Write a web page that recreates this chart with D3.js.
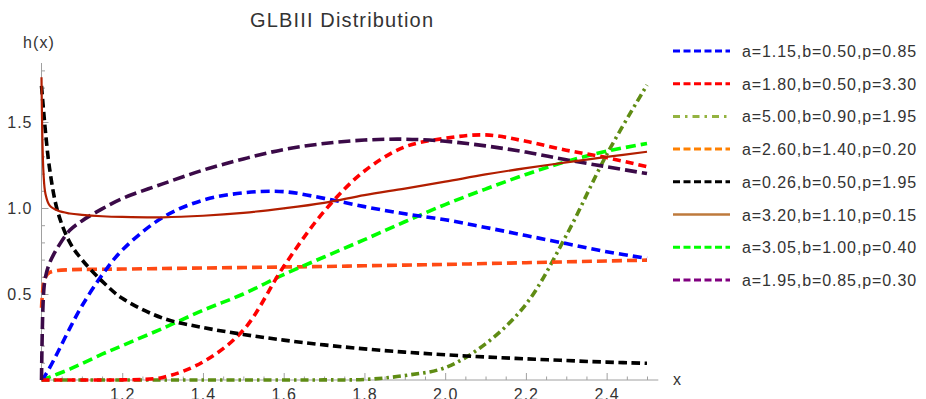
<!DOCTYPE html>
<html>
<head>
<meta charset="utf-8">
<script src="https://cdn.jsdelivr.net/npm/d3@7"></script>
<style>
  html, body { margin: 0; padding: 0; background: #fff; }
  svg { display: block; font-family: "Liberation Sans", Arial, sans-serif; }
</style>
</head>
<body>
<svg id="chart" width="926" height="399"></svg>
<script>
// ---- data ----
const xs = [1.0, 1.005, 1.01, 1.02, 1.04, 1.07, 1.1, 1.15, 1.2, 1.3, 1.4, 1.5, 1.6, 1.7, 1.8, 1.9, 2.0, 2.1, 2.2, 2.3, 2.4, 2.5];

const hBlue   = [0, 0.012, 0.03, 0.07, 0.16, 0.30, 0.43, 0.61, 0.755, 0.945, 1.045, 1.088, 1.095, 1.056, 1.008, 0.966, 0.932, 0.887, 0.84, 0.793, 0.746, 0.707];
const hRed    = [0, 0, 0, 0, 0, 0, 0, 0, 0.001, 0.015, 0.105, 0.29, 0.66, 0.98, 1.215, 1.355, 1.405, 1.425, 1.388, 1.336, 1.293, 1.24];
const hOlive  = [0, 0, 0, 0, 0, 0, 0, 0, 0, 0, 0, 0, 0, 0.0005, 0.003, 0.026, 0.072, 0.21, 0.44, 0.84, 1.31, 1.715];
const hOrange = [0.42, 0.56, 0.60, 0.625, 0.637, 0.641, 0.643, 0.644, 0.645, 0.648, 0.651, 0.654, 0.657, 0.66, 0.664, 0.668, 0.672, 0.677, 0.682, 0.687, 0.692, 0.697];
const hBlack  = [1.71, 1.57, 1.44, 1.23, 0.98, 0.80, 0.70, 0.575, 0.475, 0.36, 0.305, 0.265, 0.232, 0.204, 0.181, 0.162, 0.147, 0.134, 0.123, 0.113, 0.104, 0.097];
const hSolid  = [1.76, 1.20, 1.08, 1.015, 0.985, 0.968, 0.96, 0.952, 0.948, 0.946, 0.955, 0.972, 0.998, 1.03, 1.075, 1.113, 1.153, 1.195, 1.232, 1.265, 1.297, 1.327];
const hGreen  = [0, 0.004, 0.008, 0.017, 0.035, 0.063, 0.095, 0.15, 0.20, 0.30, 0.405, 0.50, 0.613, 0.715, 0.816, 0.92, 1.02, 1.11, 1.195, 1.27, 1.33, 1.375];
const hPurple = [0, 0.50, 0.60, 0.68, 0.77, 0.87, 0.925, 0.995, 1.055, 1.14, 1.22, 1.285, 1.34, 1.375, 1.395, 1.40, 1.388, 1.361, 1.325, 1.28, 1.24, 1.20];

const labels = ["a=1.15,b=0.50,p=0.85", "a=1.80,b=0.50,p=3.30", "a=5.00,b=0.90,p=1.95", "a=2.60,b=1.40,p=0.20",
                "a=0.26,b=0.50,p=1.95", "a=3.20,b=1.10,p=0.15", "a=3.05,b=1.00,p=0.40", "a=1.95,b=0.85,p=0.30"];
const xTicks = [1.2, 1.4, 1.6, 1.8, 2.0, 2.2, 2.4];
const yTicks = [0.5, 1.0, 1.5];
const titleText = "GLBIII Distribution";

// ---- styles ----
const seriesValues = [hBlue, hRed, hOlive, hOrange, hBlack, hSolid, hGreen, hPurple];
const plotColors   = ["#0000ff", "#ff0000", "#5f8c14", "#ff4a14", "#000000", "#b21e00", "#00ff00", "#3b0a48"];
const legendColors = ["#0000ff", "#ff0000", "#94b340", "#ff8000", "#000000", "#be7a3c", "#00ff00", "#800080"];
const plotDash     = ["9,5", "8,5", "8,4,2.5,4", "10,5", "8.5,4.5", null, "10,5", "12,5"];
const legendDash   = ["7,3.5", "7,3.5", "7,5,2.5,5", "7,3.5", "7,3.5", null, "7,3.5", "7,3.5"];

const svg = d3.select("#chart");
const x = d3.scaleLinear().domain([1, 2.5]).range([41.5, 647]);
const y = d3.scaleLinear().domain([0, 1.843]).range([380, 63]);

const axisColor = "#a0a0a0";
const textColor = "#333";

svg.append("defs").append("clipPath").attr("id", "plotclip")
  .append("rect")
  .attr("x", x(1) - 3).attr("y", y(1.843))
  .attr("width", x(2.5) - x(1) + 8).attr("height", y(0) - y(1.843) + 2);

// minor ticks
const xMinor = d3.range(1.05, 2.5001, 0.05).filter(v => Math.abs(v * 5 - Math.round(v * 5)) > 1e-6);
const yMinor = d3.range(0.1, 1.8001, 0.1).filter(v => Math.abs(v * 2 - Math.round(v * 2)) > 1e-6);

const gx = svg.append("g").attr("transform", `translate(0,${y(0)})`);
gx.call(d3.axisBottom(x).tickValues(xMinor).tickSize(-3.5).tickSizeOuter(0).tickFormat(""));
gx.call(g => g.select(".domain").remove());
const gx2 = svg.append("g").attr("transform", `translate(0,${y(0)})`);
gx2.call(d3.axisBottom(x).tickValues(xTicks).tickSize(-7).tickSizeOuter(0).tickPadding(9).tickFormat(d3.format(".1f")));
gx2.select(".domain").remove();
gx2.selectAll("text").attr("font-size", 16).attr("fill", textColor).style("letter-spacing", "1px").attr("font-family", null);
[gx, gx2].forEach(g => g.selectAll("line").attr("stroke", axisColor));
svg.append("line")
  .attr("x1", x(1)).attr("x2", x(2.528))
  .attr("y1", y(0)).attr("y2", y(0))
  .attr("stroke", axisColor).attr("stroke-width", 1);

const gy = svg.append("g").attr("transform", `translate(${x(1)},0)`);
gy.call(d3.axisLeft(y).tickValues(yMinor).tickSize(-3.5).tickSizeOuter(0).tickFormat(""));
gy.select(".domain").remove();
const gy2 = svg.append("g").attr("transform", `translate(${x(1)},0)`);
gy2.call(d3.axisLeft(y).tickValues(yTicks).tickSize(-7).tickSizeOuter(0).tickPadding(9).tickFormat(d3.format(".1f")));
gy2.select(".domain").remove();
gy2.selectAll("text").attr("font-size", 16).attr("fill", textColor).style("letter-spacing", "1px").attr("font-family", null);
[gy, gy2].forEach(g => g.selectAll("line").attr("stroke", axisColor));
svg.append("line")
  .attr("x1", x(1)).attr("x2", x(1))
  .attr("y1", y(0)).attr("y2", y(1.843))
  .attr("stroke", axisColor).attr("stroke-width", 1);

// axis labels & title
svg.append("text").attr("x", 673).attr("y", 385).attr("font-size", 16).attr("fill", textColor).text("x");
svg.append("text").attr("x", 23).attr("y", 48).attr("font-size", 16).attr("fill", textColor)
  .style("letter-spacing", "1.1px").text("h(x)");
svg.append("text").attr("x", 250).attr("y", 27).attr("font-size", 20).attr("fill", textColor)
  .attr("textLength", 183).attr("lengthAdjust", "spacing").text(titleText);

// curves
const line = d3.line().x((d, i) => x(xs[i])).y(d => y(d)).curve(d3.curveCatmullRom.alpha(0.5));
const order = [2, 3, 6, 0, 1, 7, 4, 5];
const curves = svg.append("g").attr("clip-path", "url(#plotclip)");
order.forEach(k => {
  curves.append("path")
    .datum(seriesValues[k])
    .attr("d", line)
    .attr("fill", "none")
    .attr("stroke", plotColors[k])
    .attr("stroke-width", k === 5 ? 2.2 : 3.6)
    .attr("stroke-dasharray", plotDash[k])
    .attr("stroke-linecap", "butt");
});

// legend
const leg = svg.append("g");
labels.forEach((lab, i) => {
  const cy = 51 + i * 32.7;
  leg.append("line")
    .attr("x1", 673).attr("x2", 730).attr("y1", cy).attr("y2", cy)
    .attr("stroke", legendColors[i])
    .attr("stroke-width", i === 5 ? 2.5 : 3)
    .attr("stroke-dasharray", legendDash[i]);
  leg.append("text")
    .attr("x", 742).attr("y", cy + 6)
    .attr("font-size", 16).attr("fill", textColor)
    .style("letter-spacing", "0.9px")
    .text(lab);
});
</script>
</body>
</html>
